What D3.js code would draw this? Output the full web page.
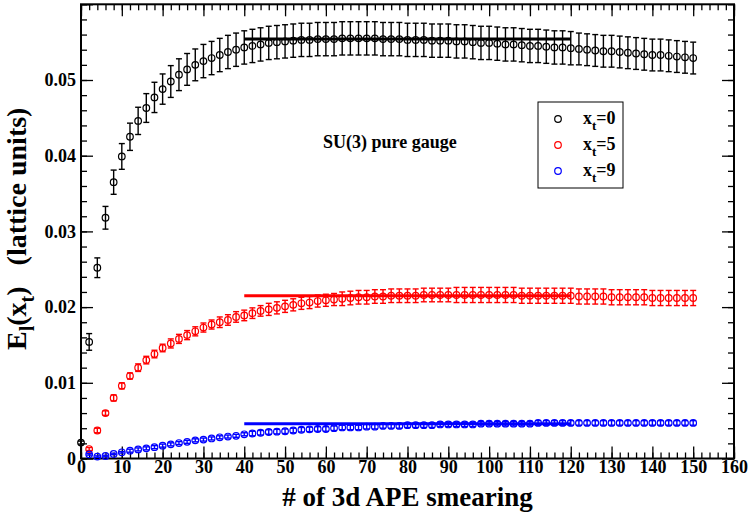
<!DOCTYPE html>
<html>
<head>
<meta charset="utf-8">
<script src="https://cdn.jsdelivr.net/npm/d3@7"></script>
<style>
  body { margin: 0; background: #fff; }
  svg text { font-family: "Liberation Serif", "Times New Roman", serif; font-weight: bold; }
</style>
</head>
<body>
<svg id="chart" width="749" height="515"></svg>
<script>
// smearing steps (x)
const steps = [0,2,4,6,8,10,12,14,16,18,20,22,24,26,28,30,32,34,36,38,40,42,44,46,48,50,
  52,54,56,58,60,62,64,66,68,70,72,74,76,78,80,82,84,86,88,90,92,94,96,98,100,
  102,104,106,108,110,112,114,116,118,120,122,124,126,128,130,132,134,136,138,140,
  142,144,146,148,150];

// x_t = 0 (starts at step 0)
const e0 = [0.0021,0.0154,0.0252,0.0318,0.0365,0.0399,0.0425,0.0446,0.0463,0.0477,
  0.0488,0.0498,0.0507,0.0514,0.0520,0.0525,0.0529,0.0533,0.0537,0.0540,
  0.0543,0.0545,0.0547,0.0549,0.0550,0.0551,0.0552,0.0553,0.0553,0.0554,
  0.0554,0.0554,0.0555,0.0555,0.0555,0.0555,0.0555,0.0554,0.0554,0.0554,
  0.0553,0.0553,0.0553,0.0552,0.0552,0.0552,0.0551,0.0551,0.0550,0.0549,
  0.0549,0.0548,0.0547,0.0547,0.0546,0.0545,0.0545,0.0544,0.0543,0.0543,
  0.0542,0.0541,0.0540,0.0539,0.0538,0.0538,0.0537,0.0536,0.0535,0.0534,
  0.0533,0.0533,0.0532,0.0531,0.0530,0.0529];
const err0 = [0.0002,0.0011,0.0013,0.0015,0.0016,0.0017,0.0018,0.0018,0.0019,0.0020,
  0.0020,0.0021,0.0021,0.0021,0.0021,0.0022,0.0022,0.0022,0.0022,0.0022,
  0.0022,0.0022,0.0022,0.0022,0.0022,0.0022,0.0022,0.0022,0.0022,0.0022,
  0.0022,0.0022,0.0022,0.0022,0.0022,0.0022,0.0022,0.0022,0.0022,0.0022,
  0.0022,0.0022,0.0022,0.0022,0.0022,0.0022,0.0022,0.0022,0.0022,0.0022,
  0.0022,0.0022,0.0022,0.0022,0.0022,0.0022,0.0022,0.0022,0.0022,0.0022,
  0.0022,0.0021,0.0021,0.0021,0.0021,0.0021,0.0021,0.0021,0.0021,0.0021,
  0.0021,0.0021,0.0021,0.0021,0.0021,0.0021];

// x_t = 5 (starts at step 2)
const e5 = [0.00125,0.0037,0.0060,0.0080,0.0096,0.0109,0.0120,0.0130,0.0138,0.0146,
  0.0152,0.0158,0.0163,0.0168,0.0173,0.0177,0.0180,0.0183,0.0187,0.0189,
  0.0192,0.0195,0.0197,0.0199,0.0201,0.0203,0.0205,0.0206,0.0208,0.0209,
  0.0210,0.0211,0.0212,0.0213,0.0213,0.0214,0.0214,0.0215,0.0215,0.0215,
  0.0215,0.0216,0.0216,0.0216,0.0216,0.0216,0.0216,0.0216,0.0216,0.0216,
  0.0216,0.0216,0.0216,0.0215,0.0215,0.0215,0.0215,0.0215,0.0215,0.0215,
  0.0214,0.0214,0.0214,0.0214,0.0213,0.0213,0.0213,0.0213,0.0213,0.0212,
  0.0212,0.0212,0.0212,0.0212,0.0212];
const err5 = [0.0002,0.0003,0.0003,0.0004,0.0004,0.0004,0.0005,0.0005,0.0005,0.0005,
  0.0006,0.0006,0.0006,0.0006,0.0006,0.0006,0.0007,0.0007,0.0007,0.0007,
  0.0007,0.0007,0.0008,0.0008,0.0008,0.0008,0.0008,0.0008,0.0008,0.0008,
  0.0008,0.0009,0.0009,0.0009,0.0009,0.0009,0.0009,0.0009,0.0009,0.0009,
  0.0009,0.0009,0.0009,0.0009,0.0009,0.0010,0.0010,0.0010,0.0010,0.0010,
  0.0010,0.0010,0.0010,0.0010,0.0010,0.0010,0.0010,0.0010,0.0010,0.0010,
  0.0010,0.0010,0.0010,0.0010,0.0010,0.0010,0.0010,0.0010,0.0010,0.0010,
  0.0010,0.0010,0.0010,0.0010,0.0010];

// x_t = 9 (starts at step 2)
const e9 = [0.00055,0.00025,0.00033,0.0006,0.00082,0.00103,0.0012,0.00134,0.0015,0.0017,
  0.00187,0.00204,0.0022,0.0024,0.0025,0.00265,0.0028,0.0029,0.0030,0.0032,
  0.0033,0.0034,0.0035,0.00355,0.0036,0.0037,0.0038,0.00385,0.0039,0.0039,
  0.0040,0.0041,0.0041,0.0041,0.0042,0.0042,0.0043,0.0043,0.0043,0.0044,
  0.0044,0.0044,0.0044,0.0045,0.0045,0.0045,0.0045,0.0045,0.0046,0.0046,
  0.0046,0.0046,0.0046,0.0046,0.0046,0.0047,0.0047,0.0047,0.0047,0.0047,
  0.0047,0.0047,0.0047,0.0047,0.0047,0.0047,0.0047,0.0047,0.0047,0.0047,
  0.0047,0.0047,0.0047,0.0047,0.0047];
const err9 = [0.0001,0.0001,0.0001,0.0001,0.0001,0.0002,0.0002,0.0002,0.0002,0.0002,
  0.0002,0.0002,0.0002,0.0002,0.0002,0.0002,0.0002,0.0002,0.0002,0.0002,
  0.0003,0.0003,0.0003,0.0003,0.0003,0.0003,0.0003,0.0003,0.0003,0.0003,
  0.0003,0.0003,0.0003,0.0003,0.0003,0.0003,0.0003,0.0003,0.0003,0.0003,
  0.0003,0.0003,0.0003,0.0003,0.0003,0.0003,0.0003,0.0003,0.0003,0.0003,
  0.0003,0.0003,0.0003,0.0003,0.0003,0.0003,0.0003,0.0003,0.0003,0.0003,
  0.0003,0.0003,0.0003,0.0003,0.0003,0.0003,0.0003,0.0003,0.0003,0.0003,
  0.0003,0.0003,0.0003,0.0003,0.0003];

// plateau fits, drawn over steps 40..120
const fitRange = [40, 120];
const fitLevels = [0.0554, 0.0215, 0.0046];

const seriesNames = ["0", "5", "9"];
const seriesColors = ["#000000", "#ff0000", "#0000ff"];

const xTicks = [0,10,20,30,40,50,60,70,80,90,100,110,120,130,140,150,160];
const yTicks = [0, 0.01, 0.02, 0.03, 0.04, 0.05];

const svg = d3.select("#chart");
const x = d3.scaleLinear().domain([0, 160]).range([81, 734]);
const y = d3.scaleLinear().domain([0, 0.06]).range([458.5, 4.3]);

const yFmt = d => d === 0 ? "0" : d3.format(".2f")(d);

// minor ticks
const xMinor = d3.range(0, 161, 2);
const yMinor = d3.range(0, 0.0601, 0.002);

function styleAxis(g) {
  g.select(".domain").remove();
  g.selectAll("line").attr("stroke", "#000").attr("stroke-width", 1.3);
  g.selectAll("text").attr("font-size", 18).attr("fill", "#000")
    .style("font-family", "'Liberation Serif', serif").style("font-weight", "bold");
}

svg.append("g").attr("transform", "translate(0,458.5)")
  .call(d3.axisBottom(x).tickValues(xMinor).tickSize(-6).tickFormat("")).call(styleAxis);
svg.append("g").attr("transform", "translate(0,458.5)")
  .call(d3.axisBottom(x).tickValues(xTicks).tickSize(-12).tickPadding(2)).call(styleAxis);
svg.append("g").attr("transform", "translate(0,4.3)")
  .call(d3.axisTop(x).tickValues(xMinor).tickSize(-6).tickFormat("")).call(styleAxis);
svg.append("g").attr("transform", "translate(0,4.3)")
  .call(d3.axisTop(x).tickValues(xTicks).tickSize(-12).tickFormat("")).call(styleAxis);

svg.append("g").attr("transform", "translate(81,0)")
  .call(d3.axisLeft(y).tickValues(yMinor).tickSize(-6).tickFormat("")).call(styleAxis);
svg.append("g").attr("transform", "translate(81,0)")
  .call(d3.axisLeft(y).tickValues(yTicks.concat([0.06])).tickSize(-12).tickPadding(5)
    .tickFormat(d => d > 0.055 ? "" : yFmt(d))).call(styleAxis);
svg.append("g").attr("transform", "translate(734,0)")
  .call(d3.axisRight(y).tickValues(yMinor).tickSize(-6).tickFormat("")).call(styleAxis);
svg.append("g").attr("transform", "translate(734,0)")
  .call(d3.axisRight(y).tickValues(yTicks).tickSize(-12).tickFormat("")).call(styleAxis);

// frame
svg.append("rect")
  .attr("x", x(0)).attr("y", y(0.06))
  .attr("width", x(160) - x(0)).attr("height", y(0) - y(0.06))
  .attr("fill", "none").attr("stroke", "#000").attr("stroke-width", 2);

// series
const series = [
  { xs: steps, ys: e0, es: err0 },
  { xs: steps.slice(1), ys: e5, es: err5 },
  { xs: steps.slice(1), ys: e9, es: err9 }
];

series.forEach((s, k) => {
  const col = seriesColors[k];
  const pts = s.xs.map((xv, i) => ({ x: xv, y: s.ys[i], e: s.es[i] }));
  const g = svg.append("g");
  const eb = g.selectAll(".eb").data(pts).join("g");
  eb.append("line")
    .attr("x1", d => x(d.x)).attr("x2", d => x(d.x))
    .attr("y1", d => y(d.y - d.e)).attr("y2", d => y(d.y + d.e))
    .attr("stroke", col).attr("stroke-width", 1.4);
  [1, -1].forEach(sg => {
    eb.append("line")
      .attr("x1", d => x(d.x) - 3).attr("x2", d => x(d.x) + 3)
      .attr("y1", d => y(d.y + sg * d.e)).attr("y2", d => y(d.y + sg * d.e))
      .attr("stroke", col).attr("stroke-width", 1.4);
  });
  g.selectAll("circle").data(pts).join("circle")
    .attr("cx", d => x(d.x)).attr("cy", d => y(d.y)).attr("r", 3.3)
    .attr("fill", "none").attr("stroke", col).attr("stroke-width", 1.2);
});

// fit lines
svg.selectAll(".fit").data(fitLevels).join("line")
  .attr("x1", x(fitRange[0])).attr("x2", x(fitRange[1]))
  .attr("y1", d => y(d)).attr("y2", d => y(d))
  .attr("stroke", (d, i) => seriesColors[i]).attr("stroke-width", 3);

// legend
const lg = svg.append("g");
lg.append("rect").attr("x", 538).attr("y", 102).attr("width", 85).attr("height", 86)
  .attr("fill", "#fff").attr("stroke", "#000").attr("stroke-width", 1);
seriesNames.forEach((n, i) => {
  const cy = 119 + i * 26;
  lg.append("circle").attr("cx", 558).attr("cy", cy).attr("r", 3.3)
    .attr("fill", "none").attr("stroke", seriesColors[i]).attr("stroke-width", 1.2);
  const t = lg.append("text").attr("x", 583).attr("y", cy + 4.5).attr("font-size", 18);
  t.append("tspan").text("x");
  t.append("tspan").attr("dy", 6).attr("font-size", 13).text("t");
  t.append("tspan").attr("dy", -6).text("=" + n);
});

// annotation
svg.append("text").attr("x", 323).attr("y", 148).attr("font-size", 18).text("SU(3) pure gauge");

// axis titles
svg.append("text").attr("x", x(80)).attr("y", 506).attr("text-anchor", "middle")
  .attr("font-size", 27).text("# of 3d APE smearing");

const yt = svg.append("text").attr("transform", "translate(26,350) rotate(-90)")
  .attr("font-size", 28);
yt.append("tspan").text("E");
yt.append("tspan").attr("dy", 8).attr("font-size", 20).text("l");
yt.append("tspan").attr("dy", -8).text("(x");
yt.append("tspan").attr("dy", 8).attr("font-size", 20).text("t");
yt.append("tspan").attr("dy", -8).text(")");
yt.append("tspan").attr("dx", 21).text("(lattice units)");
</script>
</body>
</html>
